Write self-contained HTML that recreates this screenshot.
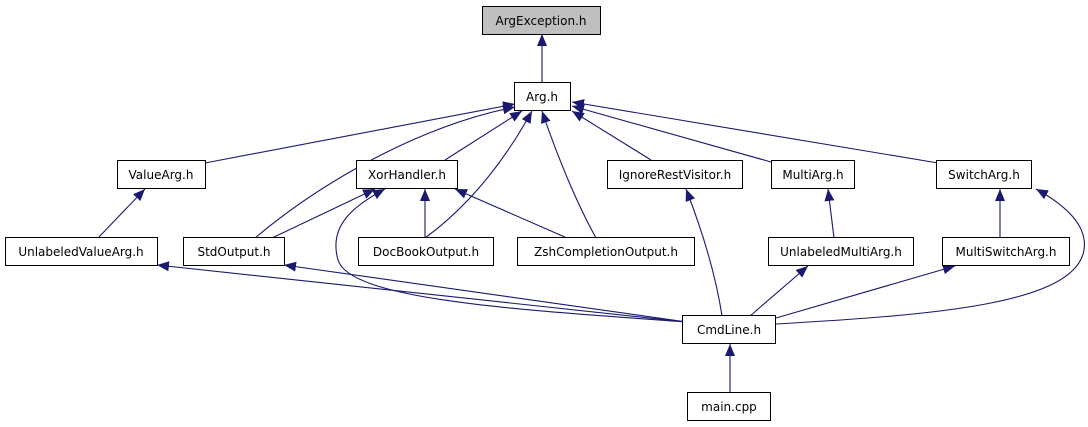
<!DOCTYPE html>
<html><head><style>
body{margin:0;background:#fff;}
svg{display:block;}
text{font-family:"DejaVu Sans","Liberation Sans",sans-serif;font-size:12px;fill:#000;}
</style></head><body>
<svg width="1088" height="427" viewBox="0 0 1088 427" xmlns="http://www.w3.org/2000/svg">
<defs>
<marker id="a" viewBox="0 0 12 10" refX="12" refY="5" markerWidth="12" markerHeight="10" markerUnits="userSpaceOnUse" orient="auto">
<path d="M0,0 L12,5 L0,10 z" fill="#191970"/>
</marker>
</defs>
<g fill="none" stroke="#191970" stroke-width="1.1" marker-end="url(#a)">
<path d="M542,83 L542,34"/>
<path d="M205,163 L515,104"/>
<path d="M255,238 C300,200 400,130 515,107"/>
<path d="M445,160 L522,111"/>
<path d="M425,238 C470,205 505,160 532,111"/>
<path d="M596,238 C575,200 555,150 542,111"/>
<path d="M651,160 L572,111"/>
<path d="M771,162 L572,106"/>
<path d="M950,165 L572,102"/>
<path d="M98,238 L145,189"/>
<path d="M272,238 L375,189"/>
<path d="M425,238 L425,189"/>
<path d="M567,238 L455,189"/>
<path d="M687,322 C520,310 350,300 338,260 C328,225 355,205 385,189"/>
<path d="M687,322 L157,265"/>
<path d="M687,322 L284,265"/>
<path d="M722,316 C715,270 700,225 686,189"/>
<path d="M834,238 L828,189"/>
<path d="M750,316 L808,266"/>
<path d="M776,318 L955,266"/>
<path d="M1000,238 L1000,189"/>
<path d="M776,324 C930,315 1075,305 1084,250 C1088,225 1065,205 1036,189"/>
<path d="M730,392 L730,344"/>
</g>
<g stroke="#000" stroke-width="1">
<rect x="482.5" y="6.5" width="118" height="28" fill="#bfbfbf"/>
<rect x="514.5" y="82.5" width="56" height="28" fill="#fff"/>
<rect x="117.5" y="160.5" width="88" height="28" fill="#fff"/>
<rect x="356.5" y="160.5" width="101" height="28" fill="#fff"/>
<rect x="607.5" y="160.5" width="135" height="28" fill="#fff"/>
<rect x="771.5" y="160.5" width="83" height="28" fill="#fff"/>
<rect x="936.5" y="160.5" width="95" height="28" fill="#fff"/>
<rect x="5.5" y="237.5" width="152" height="28" fill="#fff"/>
<rect x="183.5" y="237.5" width="101" height="28" fill="#fff"/>
<rect x="358.5" y="237.5" width="135" height="28" fill="#fff"/>
<rect x="517.5" y="237.5" width="177" height="28" fill="#fff"/>
<rect x="768.5" y="237.5" width="145" height="28" fill="#fff"/>
<rect x="942.5" y="237.5" width="127" height="28" fill="#fff"/>
<rect x="682.5" y="315.5" width="93" height="28" fill="#fff"/>
<rect x="687.5" y="392.5" width="83" height="28" fill="#fff"/>
</g>
<g text-anchor="middle">
<text x="541" y="25">ArgException.h</text>
<text x="542" y="101">Arg.h</text>
<text x="161" y="179">ValueArg.h</text>
<text x="407" y="179">XorHandler.h</text>
<text x="675" y="179">IgnoreRestVisitor.h</text>
<text x="813" y="179">MultiArg.h</text>
<text x="984" y="179">SwitchArg.h</text>
<text x="81" y="256">UnlabeledValueArg.h</text>
<text x="234" y="256">StdOutput.h</text>
<text x="426" y="256">DocBookOutput.h</text>
<text x="606" y="256">ZshCompletionOutput.h</text>
<text x="841" y="256">UnlabeledMultiArg.h</text>
<text x="1006" y="256">MultiSwitchArg.h</text>
<text x="729" y="334">CmdLine.h</text>
<text x="729" y="411">main.cpp</text>
</g>
</svg>
</body></html>
